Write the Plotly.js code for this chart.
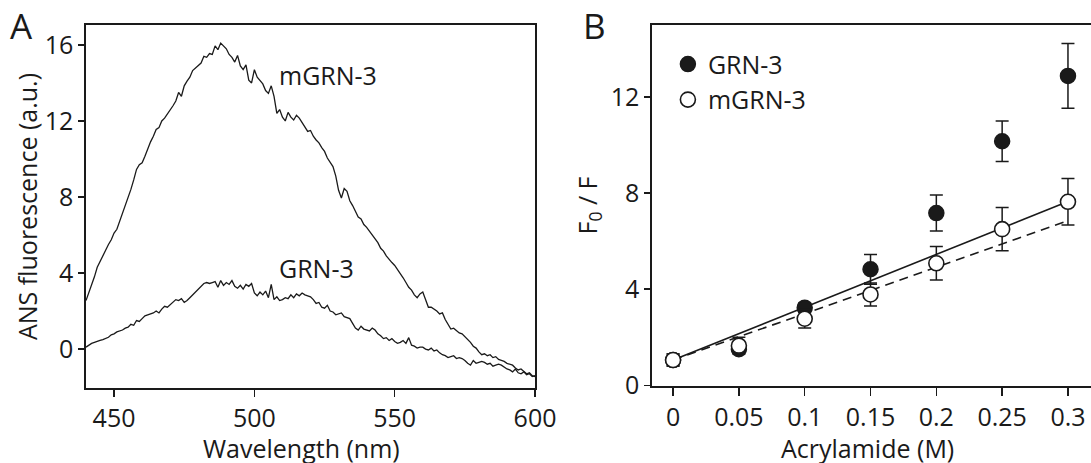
<!DOCTYPE html>
<html>
<head>
<meta charset="utf-8">
<script src="https://cdn.plot.ly/plotly-3.0.1.min.js"></script>
<style>html,body{margin:0;padding:0;background:#fff;}#chart{width:1091px;height:463px;}</style>
</head>
<body>
<div id="chart"></div>
<script>
// ---------- Panel A: ANS fluorescence spectra ----------
const wavelength = [
440,441,442,443,444,445,446,447,448,449,450,451,452,453,454,455,456,457,458,459,
460,461,462,463,464,465,466,467,468,469,470,471,472,473,474,475,476,477,478,479,
480,481,482,483,484,485,486,487,488,489,490,491,492,493,494,495,496,497,498,499,
500,501,502,503,504,505,506,507,508,509,510,511,512,513,514,515,516,517,518,519,
520,521,522,523,524,525,526,527,528,529,530,531,532,533,534,535,536,537,538,539,
540,541,542,543,544,545,546,547,548,549,550,551,552,553,554,555,556,557,558,559,
560,561,562,563,564,565,566,567,568,569,570,571,572,573,574,575,576,577,578,579,
580,581,582,583,584,585,586,587,588,589,590,591,592,593,594,595,596,597,598,599,600];

const mGRN3_spectrum = [
2.55,2.95,3.4,3.8,4.3,4.6,4.9,5.25,5.5,5.75,6.1,6.3,6.7,7.15,7.6,8.0,8.4,8.9,9.45,9.7,
9.8,10.15,10.55,10.9,11.2,11.55,11.65,12.0,12.15,12.35,12.6,12.8,13.05,13.5,13.3,13.85,14.1,14.3,14.65,14.8,
14.9,15.05,15.4,15.35,15.55,15.5,15.95,15.75,16.1,15.95,15.8,15.5,15.35,15.1,15.45,14.9,14.7,14.95,14.15,14.0,
14.7,14.3,14.1,13.95,13.6,13.45,13.85,13.3,12.4,12.6,12.2,12.0,12.45,12.2,12.05,12.3,12.15,11.9,11.65,11.45,
11.5,11.2,11.0,10.85,10.6,10.4,10.05,9.85,9.6,9.1,8.35,7.95,8.45,8.3,7.8,7.55,7.2,6.95,6.85,6.55,
6.4,6.2,6.0,5.8,5.6,5.3,5.15,4.9,4.7,4.55,4.4,4.2,4.0,3.75,3.5,3.25,3.1,2.85,2.7,2.9,
3.0,2.6,2.2,2.2,2.1,2.0,1.85,1.9,1.55,1.3,1.05,1.1,0.95,0.85,0.8,0.65,0.55,0.35,0.15,0.05,
-0.15,-0.3,-0.25,-0.35,-0.3,-0.45,-0.4,-0.55,-0.6,-0.65,-0.75,-0.8,-0.85,-1.0,-1.1,-1.05,-1.2,-1.3,-1.25,-1.4,-1.45];

const GRN3_spectrum = [
0.1,0.2,0.3,0.35,0.38,0.45,0.5,0.55,0.62,0.75,0.8,0.9,0.95,1.0,1.1,1.15,1.3,1.25,1.5,1.45,
1.6,1.75,1.8,1.85,1.9,2.0,1.9,2.1,2.25,2.2,2.35,2.45,2.6,2.55,2.65,2.45,2.55,2.7,2.85,2.95,
3.1,3.3,3.45,3.5,3.45,3.5,3.55,3.25,3.6,3.35,3.5,3.4,3.6,3.3,3.2,3.35,3.15,3.4,3.3,3.45,
2.95,2.8,3.0,2.85,3.05,2.7,3.4,2.6,2.75,2.55,2.6,2.7,2.65,2.85,2.7,2.9,2.8,2.95,2.85,2.8,
2.75,2.6,2.4,2.45,2.2,2.15,2.3,2.0,1.95,1.8,1.85,1.9,1.7,1.65,1.6,1.35,1.1,1.0,1.2,1.05,
1.0,0.95,1.1,1.0,0.8,0.7,0.55,0.6,0.45,0.55,0.4,0.3,0.35,0.45,0.3,0.6,0.2,0.15,0.05,0.1,
0.1,0.0,-0.05,0.05,-0.1,-0.05,-0.2,-0.3,-0.35,-0.45,-0.4,-0.35,-0.5,-0.45,-0.5,-0.6,-0.75,-0.85,-0.6,-0.75,
-0.7,-0.65,-0.7,-0.8,-0.75,-0.9,-0.85,-0.8,-0.85,-0.95,-1.05,-1.1,-1.2,-1.05,-1.25,-1.3,-1.2,-1.35,-1.3,-1.45,-1.4];

// ---------- Panel B: Stern-Volmer quenching ----------
const acrylamide = [0, 0.05, 0.1, 0.15, 0.2, 0.25, 0.3];
const GRN3_F0F = [1.05, 1.5, 3.23, 4.83, 7.17, 10.16, 12.88];
const GRN3_err = [0.25, 0.15, 0.2, 0.62, 0.75, 0.84, 1.35];
const mGRN3_F0F = [1.05, 1.65, 2.77, 3.78, 5.08, 6.5, 7.64];
const mGRN3_err = [0.25, 0.35, 0.38, 0.48, 0.7, 0.9, 0.97];
const fitX = [0, 0.3];
const fitSolid = [1.05, 7.65];
const fitDashed = [1.05, 6.85];

const xTicksA = [450, 500, 550, 600];
const yTicksA = [0, 4, 8, 12, 16];
const xTicksB = [0, 0.05, 0.1, 0.15, 0.2, 0.25, 0.3];
const xTickTextB = ['0', '0.05', '0.1', '0.15', '0.2', '0.25', '0.3'];
const yTicksB = [0, 4, 8, 12];

const FONT = 'Open Sans, Noto Sans, sans-serif';
const INK = '#1a1a1a';

const traces = [
  {x: wavelength, y: mGRN3_spectrum, xaxis: 'x', yaxis: 'y', mode: 'lines',
   line: {color: INK, width: 1.3}, showlegend: false, hoverinfo: 'skip'},
  {x: wavelength, y: GRN3_spectrum, xaxis: 'x', yaxis: 'y', mode: 'lines',
   line: {color: INK, width: 1.3}, showlegend: false, hoverinfo: 'skip'},
  {x: fitX, y: fitSolid, xaxis: 'x2', yaxis: 'y2', mode: 'lines',
   line: {color: INK, width: 1.6}, showlegend: false},
  {x: fitX, y: fitDashed, xaxis: 'x2', yaxis: 'y2', mode: 'lines',
   line: {color: INK, width: 1.6, dash: '9px,6px'}, showlegend: false},
  {x: acrylamide, y: GRN3_F0F, xaxis: 'x2', yaxis: 'y2', mode: 'markers', name: 'GRN-3',
   legendgroup: 'g1',
   marker: {symbol: 'circle', size: 15, color: INK, line: {color: INK, width: 1.5}},
   error_y: {type: 'data', array: GRN3_err, visible: true, color: INK, thickness: 1.5, width: 6.5}},
  {x: acrylamide, y: mGRN3_F0F, xaxis: 'x2', yaxis: 'y2', mode: 'markers', name: 'mGRN-3',
   legendgroup: 'g2',
   marker: {symbol: 'circle', size: 15, color: '#ffffff', line: {color: INK, width: 1.6}},
   error_y: {type: 'data', array: mGRN3_err, visible: true, color: INK, thickness: 1.5, width: 6.5}}
];

const axisCommon = {
  showgrid: false, zeroline: false, showline: true, linecolor: INK, linewidth: 1.6,
  ticks: 'outside', tickcolor: INK, tickwidth: 1.5,
  tickfont: {family: FONT, size: 25, color: INK}
};

const layout = {
  width: 1091, height: 463,
  margin: {l: 86, r: 0, t: 25, b: 75},
  paper_bgcolor: '#ffffff', plot_bgcolor: '#ffffff',
  font: {family: FONT, size: 25, color: INK},
  xaxis: Object.assign({}, axisCommon, {
    domain: [0, 0.4468], range: [440, 600], tickvals: xTicksA, ticklen: 7, mirror: true
  }),
  yaxis: Object.assign({}, axisCommon, {
    domain: [0, 1], range: [-2.05, 17.05], tickvals: yTicksA, ticklen: 6, mirror: true,
    title: {text: 'ANS fluorescence (a.u.)', font: {family: FONT, size: 25, color: INK}, standoff: 0}
  }),
  xaxis2: Object.assign({}, axisCommon, {
    domain: [0.5632, 1], range: [-0.016, 0.3175], tickvals: xTicksB, ticktext: xTickTextB,
    ticklen: 8, mirror: true, anchor: 'y2'
  }),
  yaxis2: Object.assign({}, axisCommon, {
    domain: [0.0055, 1], range: [-0.03, 15.0], tickvals: yTicksB, ticklen: 6, anchor: 'x2',
    title: {text: 'F<sub>0</sub> / F', font: {family: FONT, size: 25, color: INK}, standoff: 6}
  }),
  showlegend: true,
  legend: {
    x: 0.579, y: 0.955, xanchor: 'left', yanchor: 'top',
    bgcolor: 'rgba(0,0,0,0)', borderwidth: 0,
    font: {family: FONT, size: 25, color: INK},
    tracegroupgap: 9, traceorder: 'normal'
  },
  annotations: [
    {text: 'A', xref: 'paper', yref: 'paper', x: -0.078, y: 1.0, xanchor: 'left', yanchor: 'middle',
     showarrow: false, font: {family: FONT, size: 35, color: INK}},
    {text: 'B', xref: 'paper', yref: 'paper', x: 0.4925, y: 1.0, xanchor: 'left', yanchor: 'middle',
     showarrow: false, font: {family: FONT, size: 35, color: INK}},
    {text: 'Wavelength (nm)', xref: 'paper', yref: 'paper', x: 0.214, y: -0.2066,
     xanchor: 'center', yanchor: 'bottom', yshift: -4, showarrow: false,
     font: {family: FONT, size: 25, color: INK}},
    {text: 'Acrylamide (M)', xref: 'paper', yref: 'paper', x: 0.778, y: -0.2066,
     xanchor: 'center', yanchor: 'bottom', yshift: -4, showarrow: false,
     font: {family: FONT, size: 25, color: INK}},
    {text: 'mGRN-3', xref: 'x', yref: 'y', x: 508, y: 14.4, xanchor: 'left', yanchor: 'middle',
     showarrow: false, font: {family: FONT, size: 25, color: INK}},
    {text: 'GRN-3', xref: 'x', yref: 'y', x: 508, y: 4.26, xanchor: 'left', yanchor: 'middle',
     showarrow: false, font: {family: FONT, size: 25, color: INK}}
  ]
};

Plotly.newPlot('chart', traces, layout, {displayModeBar: false, staticPlot: true});
</script>
</body>
</html>
